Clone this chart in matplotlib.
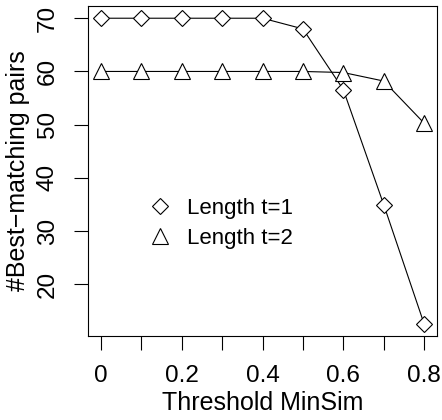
import matplotlib
matplotlib.use("Agg")
import matplotlib.pyplot as plt
from matplotlib.lines import Line2D
import numpy as np

plt.rcParams["font.family"] = ["Liberation Sans", "DejaVu Sans"]

minsim = [0.0, 0.1, 0.2, 0.3, 0.4, 0.5, 0.6, 0.7, 0.8]
pairs_t1 = [70, 70, 70, 70, 70, 68, 56.6, 35, 12.6]
pairs_t2 = [60, 60, 60, 60, 60, 60, 59.8, 58.2, 50.3]
series_names = ["Length t=1", "Length t=2"]

fig = plt.figure(figsize=(4.42, 4.2), dpi=100)
ax = fig.add_axes([88 / 442, 84 / 420, 349 / 442, 330 / 420])

mk = dict(markerfacecolor="white", markeredgecolor="black", markeredgewidth=0.8)
ax.plot(minsim, pairs_t1, color="black", linewidth=0.8, marker="D", markersize=8.5, **mk)
ax.plot(minsim, pairs_t2, color="black", linewidth=0.8, marker="^", markersize=11, **mk)

# R-style 4% padding
lo, hi = min(pairs_t1 + pairs_t2), max(pairs_t1 + pairs_t2)
ax.set_ylim(lo - 0.04 * (hi - lo), hi + 0.04 * (hi - lo))
ax.set_xlim(-0.032, 0.832)

ax.set_xticks(np.arange(0, 0.81, 0.1))
ax.set_xticklabels(["0", "", "0.2", "", "0.4", "", "0.6", "", "0.8"])
ax.set_yticks([20, 30, 40, 50, 60, 70])
ax.set_yticklabels(["20", "30", "40", "50", "60", "70"], rotation=90, va="center")
ax.tick_params(axis="both", direction="out", length=10, width=0.8, labelsize=17.5)
ax.tick_params(axis="x", pad=11)
ax.tick_params(axis="y", pad=11)
for s in ax.spines.values():
    s.set_linewidth(0.8)

ax.set_xlabel("Threshold MinSim", fontsize=18)
ax.set_ylabel("#Best\u2212matching pairs", fontsize=18)
ax.xaxis.set_label_coords(0.5, -0.168)
ax.yaxis.set_label_coords(-0.165, 0.5)

handles = [Line2D([], [], linestyle="none", marker="D", markersize=8.5, **mk),
           Line2D([], [], linestyle="none", marker="^", markersize=11, **mk)]
ax.legend(handles, series_names, loc="center left", bbox_to_anchor=(0.175, 0.342),
          frameon=False, fontsize=16, handlelength=1.0, handletextpad=0.7,
          labelspacing=0.4, borderpad=0, borderaxespad=0)

fig.savefig("out.png", dpi=100)
